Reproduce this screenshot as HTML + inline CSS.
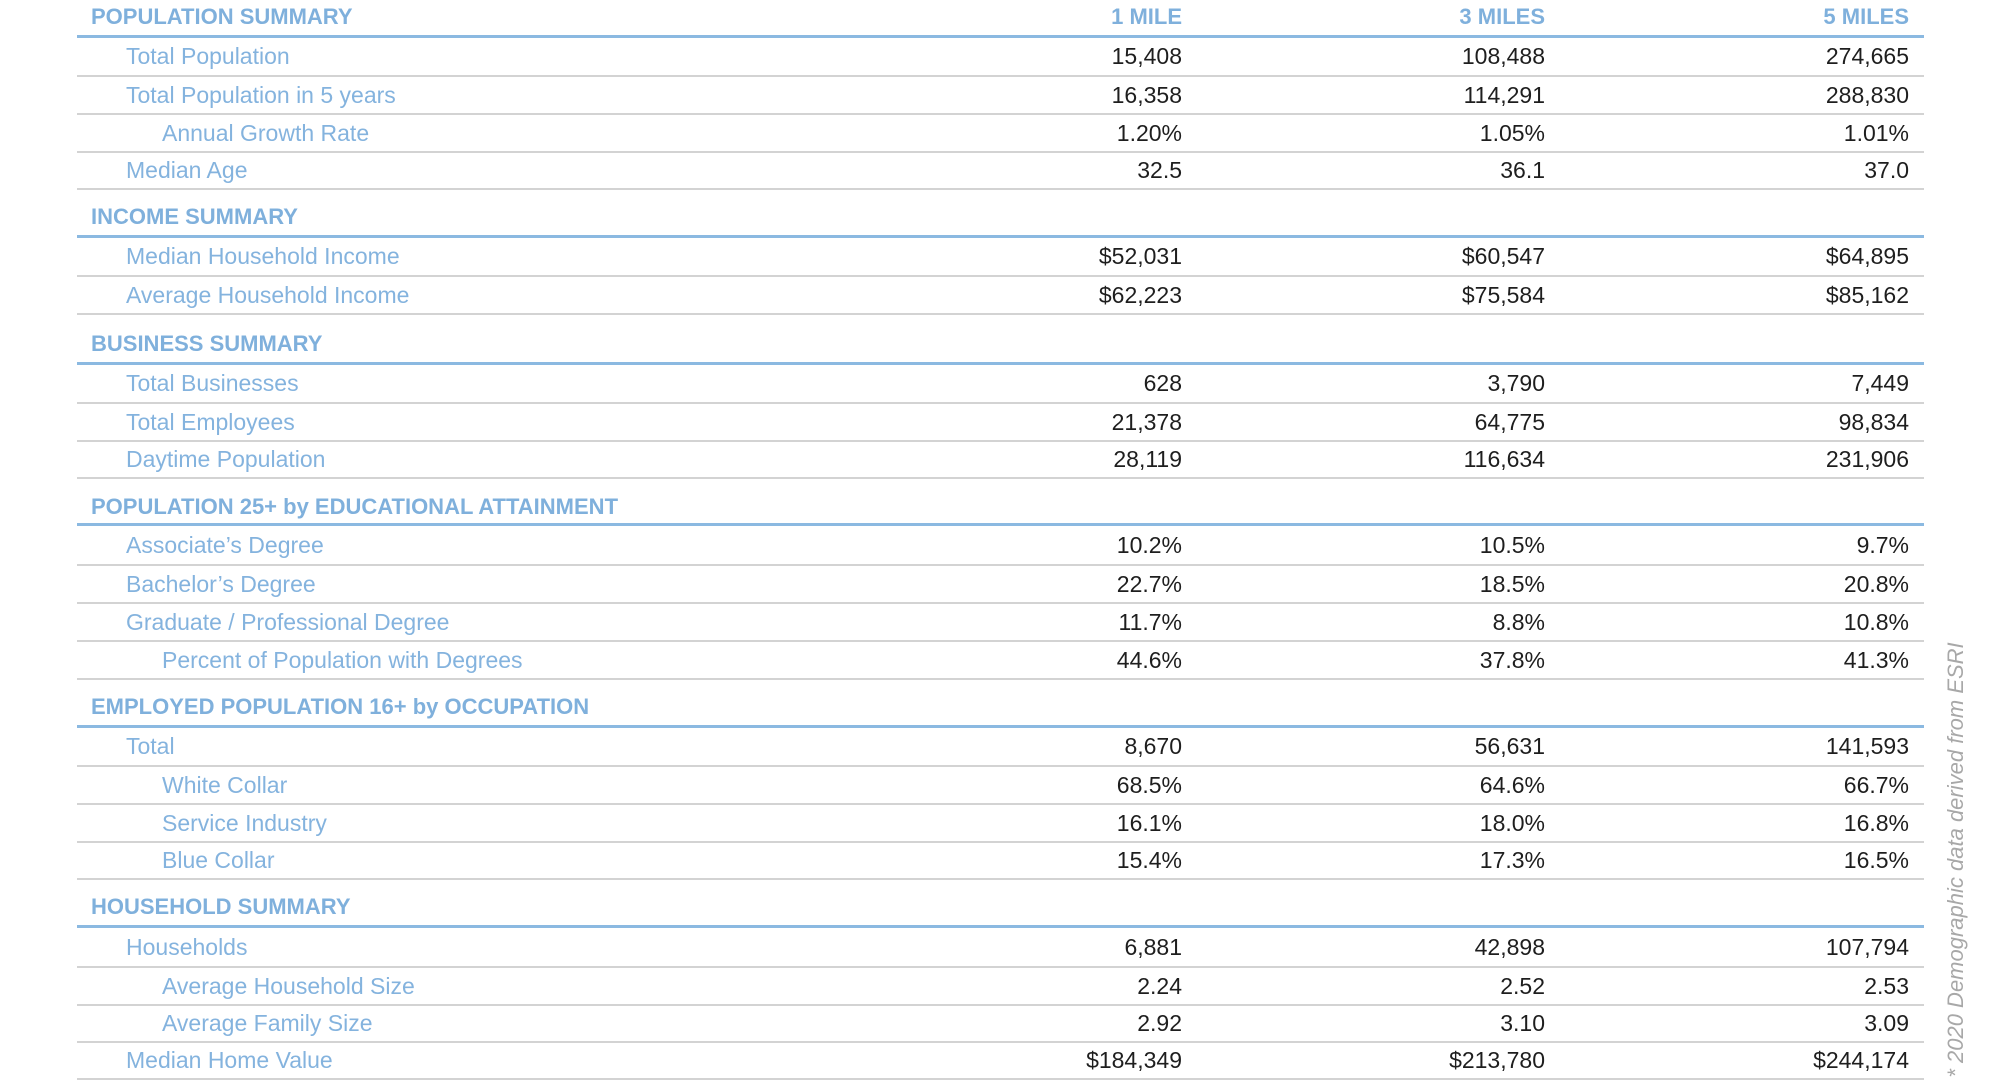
<!DOCTYPE html>
<html><head><meta charset="utf-8"><style>
body{margin:0;width:2000px;height:1080px;background:#fff;position:relative;overflow:hidden;font-family:"Liberation Sans",sans-serif;}
.r{position:absolute;left:77px;width:1847px;border-bottom:2px solid #d3d3d3;box-sizing:border-box;font-size:23px;}
.r span{position:absolute;top:0;bottom:0;display:flex;align-items:center;white-space:nowrap;}
.l{left:49px;color:#84b3de;}
.i{left:85px;color:#84b3de;}
.a{right:742px;color:#1e1e1e;}
.b{right:379px;color:#1e1e1e;}
.c{right:15px;color:#1e1e1e;}
.bl{position:absolute;left:77px;width:1847px;height:3px;background:#8bb9e1;}
.h{position:absolute;left:91px;font-weight:bold;font-size:22px;color:#7fb0dc;height:28px;line-height:28px;white-space:nowrap;}
.hc{position:absolute;font-weight:bold;font-size:22px;color:#7fb0dc;height:28px;line-height:28px;top:3px;}
.fn{position:absolute;left:1956px;top:860px;transform:translate(-50%,-50%) rotate(-90deg);font-style:italic;font-size:22px;color:#a8a8a8;white-space:nowrap;}
</style></head><body>
<div class="h" style="top:3px">POPULATION SUMMARY</div>
<div class="hc" style="right:818px">1 MILE</div>
<div class="hc" style="right:455px">3 MILES</div>
<div class="hc" style="right:91px">5 MILES</div>
<div class="bl" style="top:35px"></div>
<div class="r" style="top:38px;height:39px"><span class="l">Total Population</span><span class="a">15,408</span><span class="b">108,488</span><span class="c">274,665</span></div>
<div class="r" style="top:77px;height:38px"><span class="l">Total Population in 5 years</span><span class="a">16,358</span><span class="b">114,291</span><span class="c">288,830</span></div>
<div class="r" style="top:115px;height:38px"><span class="i">Annual Growth Rate</span><span class="a">1.20%</span><span class="b">1.05%</span><span class="c">1.01%</span></div>
<div class="r" style="top:153px;height:37px"><span class="l">Median Age</span><span class="a">32.5</span><span class="b">36.1</span><span class="c">37.0</span></div>

<div class="h" style="top:203px">INCOME SUMMARY</div>
<div class="bl" style="top:235px"></div>
<div class="r" style="top:238px;height:39px"><span class="l">Median Household Income</span><span class="a">$52,031</span><span class="b">$60,547</span><span class="c">$64,895</span></div>
<div class="r" style="top:277px;height:38px"><span class="l">Average Household Income</span><span class="a">$62,223</span><span class="b">$75,584</span><span class="c">$85,162</span></div>

<div class="h" style="top:330px">BUSINESS SUMMARY</div>
<div class="bl" style="top:362px"></div>
<div class="r" style="top:365px;height:39px"><span class="l">Total Businesses</span><span class="a">628</span><span class="b">3,790</span><span class="c">7,449</span></div>
<div class="r" style="top:404px;height:38px"><span class="l">Total Employees</span><span class="a">21,378</span><span class="b">64,775</span><span class="c">98,834</span></div>
<div class="r" style="top:442px;height:37px"><span class="l">Daytime Population</span><span class="a">28,119</span><span class="b">116,634</span><span class="c">231,906</span></div>

<div class="h" style="top:493px">POPULATION 25+ by EDUCATIONAL ATTAINMENT</div>
<div class="bl" style="top:523px"></div>
<div class="r" style="top:526px;height:40px"><span class="l">Associate’s Degree</span><span class="a">10.2%</span><span class="b">10.5%</span><span class="c">9.7%</span></div>
<div class="r" style="top:566px;height:38px"><span class="l">Bachelor’s Degree</span><span class="a">22.7%</span><span class="b">18.5%</span><span class="c">20.8%</span></div>
<div class="r" style="top:604px;height:38px"><span class="l">Graduate / Professional Degree</span><span class="a">11.7%</span><span class="b">8.8%</span><span class="c">10.8%</span></div>
<div class="r" style="top:642px;height:38px"><span class="i">Percent of Population with Degrees</span><span class="a">44.6%</span><span class="b">37.8%</span><span class="c">41.3%</span></div>

<div class="h" style="top:693px">EMPLOYED POPULATION 16+ by OCCUPATION</div>
<div class="bl" style="top:725px"></div>
<div class="r" style="top:728px;height:39px"><span class="l">Total</span><span class="a">8,670</span><span class="b">56,631</span><span class="c">141,593</span></div>
<div class="r" style="top:767px;height:38px"><span class="i">White Collar</span><span class="a">68.5%</span><span class="b">64.6%</span><span class="c">66.7%</span></div>
<div class="r" style="top:805px;height:38px"><span class="i">Service Industry</span><span class="a">16.1%</span><span class="b">18.0%</span><span class="c">16.8%</span></div>
<div class="r" style="top:843px;height:37px"><span class="i">Blue Collar</span><span class="a">15.4%</span><span class="b">17.3%</span><span class="c">16.5%</span></div>

<div class="h" style="top:893px">HOUSEHOLD SUMMARY</div>
<div class="bl" style="top:925px"></div>
<div class="r" style="top:928px;height:40px"><span class="l">Households</span><span class="a">6,881</span><span class="b">42,898</span><span class="c">107,794</span></div>
<div class="r" style="top:968px;height:38px"><span class="i">Average Household Size</span><span class="a">2.24</span><span class="b">2.52</span><span class="c">2.53</span></div>
<div class="r" style="top:1006px;height:37px"><span class="i">Average Family Size</span><span class="a">2.92</span><span class="b">3.10</span><span class="c">3.09</span></div>
<div class="r" style="top:1043px;height:37px"><span class="l">Median Home Value</span><span class="a">$184,349</span><span class="b">$213,780</span><span class="c">$244,174</span></div>

<div class="fn">* 2020 Demographic data derived from ESRI</div>
</body></html>
